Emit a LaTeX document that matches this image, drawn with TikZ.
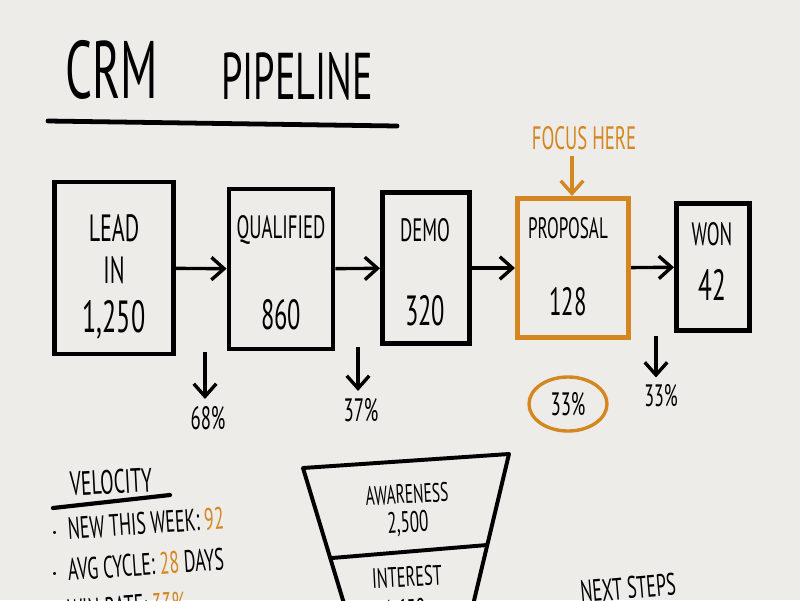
\documentclass[tikz,border=0pt]{standalone}
\usepackage{fontspec}
\setmainfont[FakeStretch=0.58]{PT Sans}
\usetikzlibrary{arrows.meta,shapes.geometric}
\definecolor{feutreorange}{RGB}{212,134,32}
\definecolor{tableau}{RGB}{238,236,233}
\newcommand{\taille}[1]{\fontsize{#1}{#1}\selectfont}

\begin{document}
\begin{tikzpicture}[x=0.025cm,y=-0.025cm]
      \tikzstyle{boite}=[draw, line width=3.4pt, rectangle]
      \tikzstyle{texte}=[inner sep=0pt, text=black]
      \tikzstyle{fleche}=[-{Straight Barb[length=9pt,width=16pt]}, line width=2.4pt]
      \tikzstyle{trait}=[line width=3.4pt, line cap=round]

      \useasboundingbox (0,0) rectangle (800,600);
      \fill[tableau] (0,0) rectangle (800,600);

      \node[texte] (CRM) at (112,70) {\taille{58}CRM};
      \node[texte] (Pip) at (297,76) {\taille{47}PIPELINE};
      \draw[trait] (48,121)--(397,126);

      \node[boite, minimum width=2.98cm, minimum height=4.3cm] (Lead) at (114,268) {};
      \node[boite, minimum width=2.6cm, minimum height=4.0cm] (Qual) at (281,269) {};
      \node[boite, minimum width=2.18cm, minimum height=3.78cm] (Demo) at (426,268) {};
      \node[boite, draw=feutreorange, minimum width=2.78cm, minimum height=3.48cm] (Prop) at (573,268) {};
      \node[boite, minimum width=1.83cm, minimum height=3.18cm] (Won) at (713,267) {};

      \node[texte] (LeadA) at (114,228) {\taille{27}LEAD};
      \node[texte] (LeadB) at (114,270) {\taille{27}IN};
      \node[texte] (LeadN) at (114,320) {\taille{32}1,250};
      \node[texte] (QualA) at (281,230) {\taille{23}QUALIFIED};
      \node[texte] (QualN) at (281,315) {\taille{30}860};
      \node[texte] (DemoA) at (425,230) {\taille{23}DEMO};
      \node[texte] (DemoN) at (425,311) {\taille{30}320};
      \node[texte] (PropA) at (568,228) {\taille{21}PROPOSAL};
      \node[texte] (PropN) at (568,302) {\taille{28}128};
      \node[texte] (WonA) at (712,234) {\taille{23}WON};
      \node[texte] (WonN) at (712,285) {\taille{31}42};

      \draw[fleche] (Lead)--(Qual);
      \draw[fleche] (Qual)--(Demo);
      \draw[fleche] (Demo)--(Prop);
      \draw[fleche] (Prop)--(Won);

      \node[texte, text=feutreorange] (Focus) at (584,138) {\taille{23}FOCUS HERE};
      \coordinate (F) at (572,156);
      \draw[fleche, draw=feutreorange] (F)--(F |- Prop.north);

      \node[texte] (P1) at (208,418) {\taille{23}68\%};
      \node[texte] (P2) at (361,410) {\taille{23}37\%};
      \node[ellipse, draw=feutreorange, line width=2.4pt, minimum width=1.95cm, minimum height=1.35cm, inner sep=0pt] (P3) at (568,404) {\taille{23}33\%};
      \node[texte] (P4) at (661,396) {\taille{22}33\%};
      \coordinate (D1) at (205,352);
      \coordinate (D2) at (358,347);
      \coordinate (D4) at (656,336);
      \draw[fleche, shorten >=5pt] (D1)--(D1 |- P1.north);
      \draw[fleche, shorten >=5pt] (D2)--(D2 |- P2.north);
      \draw[fleche, shorten >=5pt] (D4)--(D4 |- P4.north);

      \node[texte, rotate=3] (Velo) at (111,482) {\taille{24}VELOCITY};
      \draw[trait, line width=3pt] (53,508)--(170,495);
      \node[texte, anchor=west, rotate=4] (New) at (50,530) {\taille{22}$\cdot$ \ NEW THIS WEEK: \textcolor{feutreorange}{92}};
      \node[texte, anchor=west, rotate=4] (Cycle) at (50,571) {\taille{22}$\cdot$ \ AVG CYCLE: \textcolor{feutreorange}{28} DAYS};
      \node[texte, anchor=west, rotate=4] (Win) at (50,612) {\taille{22}$\cdot$ \ WIN RATE: \textcolor{feutreorange}{33\%}};

      \draw[line width=2.8pt, line join=round] (352,630)--(303,468)--(509,454)--(467,630);
      \draw[line width=2.8pt] (332,558)--(487,545);
      \node[texte, rotate=3] (Aware) at (407,494) {\taille{19}AWARENESS};
      \node[texte, rotate=3] (AwareN) at (408,524) {\taille{21}2,500};
      \node[texte, rotate=3] (Inter) at (407,577) {\taille{20}INTEREST};
      \node[texte, rotate=3] (InterN) at (405,612) {\taille{21}1,650};

      \node[texte, rotate=5] (Next) at (628,588) {\taille{22}NEXT STEPS};
    \end{tikzpicture}
\end{document}
